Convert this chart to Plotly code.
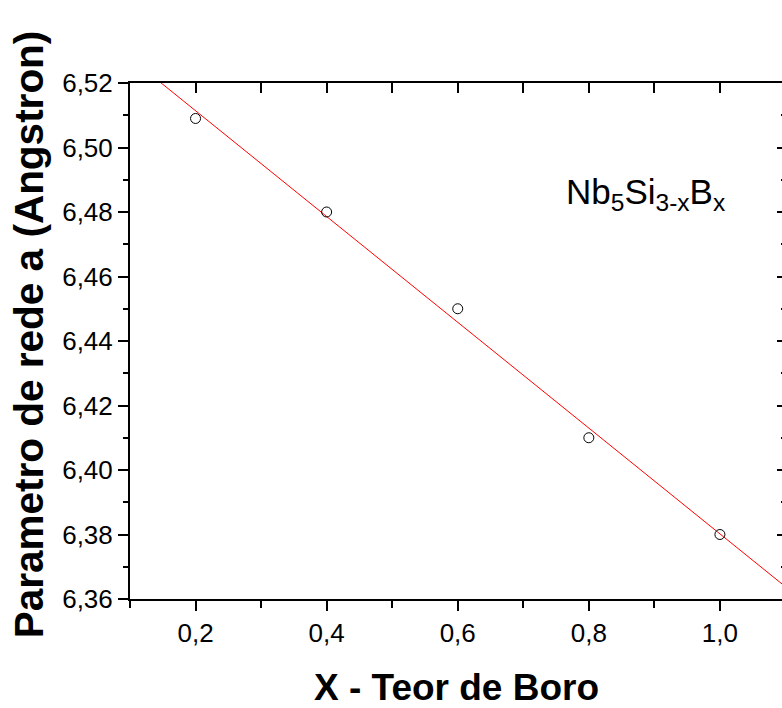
import numpy as np
import plotly.graph_objects as go

# Data
x_boron = [0.2, 0.4, 0.6, 0.8, 1.0]
lattice_a = [6.509, 6.480, 6.450, 6.410, 6.380]

x_title = "X - Teor de Boro"
y_title = "Parametro de rede a (Angstron)"
formula = "Nb<sub>5</sub>Si<sub>3-x</sub>B<sub>x</sub>"

x_range = [0.1, 1.0947]
y_range = [6.36, 6.52]

# Linear fit
slope, intercept = np.polyfit(x_boron, lattice_a, 1)
fit_x = np.array([0.1, 1.1])
fit_y = slope * fit_x + intercept

FONT = "Arial, 'Liberation Sans', sans-serif"

fig = go.Figure()
fig.add_trace(go.Scatter(x=fit_x, y=fit_y, mode="lines",
                         line=dict(color="red", width=1), showlegend=False))
fig.add_trace(go.Scatter(x=x_boron, y=lattice_a, mode="markers",
                         marker=dict(symbol="circle-open", size=10,
                                     color="black", line=dict(width=1)),
                         showlegend=False))
# invisible traces to activate mirror axes
fig.add_trace(go.Scatter(x=x_boron, y=lattice_a, xaxis="x2", yaxis="y2",
                         mode="markers", marker=dict(opacity=0),
                         hoverinfo="skip", showlegend=False))

fig.update_layout(
    width=782, height=708,
    margin=dict(l=130, r=0, t=83, b=109),
    paper_bgcolor="white", plot_bgcolor="white",
    separators=",.",
    font=dict(family=FONT, color="black", size=26),
    xaxis=dict(range=x_range, dtick=0.2, tick0=0.2, tickformat=".1f",
               ticks="outside", ticklen=10, tickwidth=1.5, tickcolor="black",
               minor=dict(dtick=0.1, ticks="outside", ticklen=7,
                          tickwidth=1.5, tickcolor="black"),
               showline=True, linewidth=2, linecolor="black",
               showgrid=False, zeroline=False,
               tickfont=dict(size=26, family=FONT)),
    yaxis=dict(range=y_range, dtick=0.02, tickformat=".2f",
               ticks="outside", ticklen=10, tickwidth=1.5, tickcolor="black",
               minor=dict(dtick=0.01, ticks="outside", ticklen=5,
                          tickwidth=1.5, tickcolor="black"),
               showline=True, linewidth=2, linecolor="black",
               showgrid=False, zeroline=False,
               tickfont=dict(size=26, family=FONT)),
    xaxis2=dict(overlaying="x", side="top", matches="x", range=x_range,
                dtick=0.1, tick0=0.1, ticks="inside", ticklen=10,
                tickwidth=1.5, tickcolor="black", showticklabels=False,
                showline=True, linewidth=2, linecolor="black",
                showgrid=False, zeroline=False),
    yaxis2=dict(overlaying="y", side="right", matches="y", range=y_range,
                dtick=0.02, ticks="inside", ticklen=5, tickwidth=1.5,
                tickcolor="black", showticklabels=False,
                minor=dict(dtick=0.01, ticks="inside", ticklen=1,
                           tickwidth=1.5, tickcolor="black"),
                showline=False, showgrid=False, zeroline=False),
    annotations=[
        dict(text=f"<b>{x_title}</b>", xref="paper", yref="paper",
             x=0.5, y=0, xanchor="center", yanchor="middle", yshift=-88,
             showarrow=False, font=dict(size=37, family=FONT)),
        dict(text=f"<b>{y_title}</b>", xref="paper", yref="paper",
             x=0, y=0.513, xanchor="center", yanchor="middle", xshift=-101,
             textangle=-90, showarrow=False,
             font=dict(size=40.5, family=FONT)),
        dict(text=formula, xref="x", yref="y", x=0.762, y=6.478,
             xanchor="left", yanchor="bottom", showarrow=False,
             font=dict(size=35, family=FONT)),
    ],
)

fig.write_html("out.html")
